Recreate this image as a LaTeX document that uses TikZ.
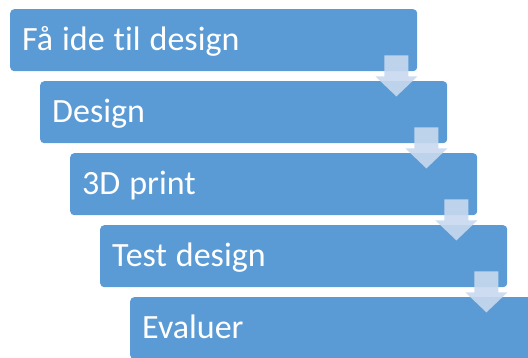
\documentclass[tikz,border=0pt]{standalone}
\usepackage{fontspec}
\setmainfont{Carlito}[Ligatures=NoCommon]
\usetikzlibrary{positioning, calc}
\definecolor{stepblue}{HTML}{5B9BD5}
\definecolor{arrowblue}{HTML}{C8D8EE}
\newcommand\steptext[1]{\makebox[383pt][l]{\spaceskip=9pt\relax #1}}
\tikzset{
  stepbox/.style={fill=stepblue, rounded corners=4pt, text=white, anchor=north west,
    font=\fontsize{34}{40}\selectfont, minimum width=407pt, minimum height=62pt,
    inner xsep=12pt, text height=24pt, text depth=4pt},
  downarrow/.style={fill=arrowblue, fill opacity=0.9},
}

\begin{document}
\begin{tikzpicture}[x=1pt,y=1pt]
  \clip (0,0) rectangle (528,-358);
  % trinn, forskjøvet nedover mot høyre
  \foreach \i/\txt in {1/Få ide til design,2/Design,3/3D print,4/Test design,5/Evaluer} {
    \node[stepbox] (b\i) at ({10+(\i-1)*30}, {-9-(\i-1)*72}) {\steptext{\txt}};
  }
  % pilene mellom trinnene
  \foreach \i in {1,...,4} {
    \draw[downarrow, draw=none]
      ($(b\i.south east)+(-33,16)$) -- ++(24,0) -- ++(0,-21) -- ++(9,0)
      -- ($(b\i.south east)+(-21,-25)$) -- ++(-21,20) -- ++(9,0) -- cycle;
  }
\end{tikzpicture}
\end{document}
